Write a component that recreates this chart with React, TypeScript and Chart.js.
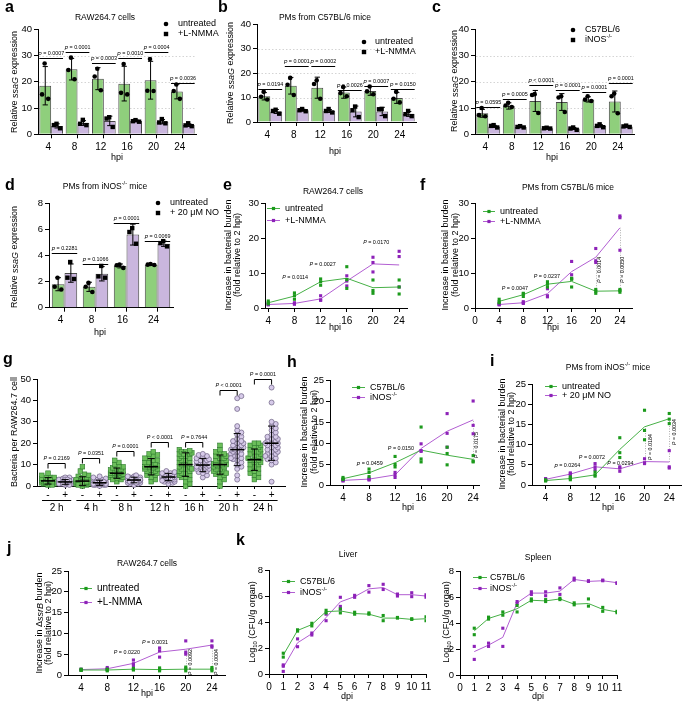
import React, { useEffect, useRef } from 'react';
import { Chart, registerables } from 'chart.js';
Chart.register(...registerables);

const FONT = "'Liberation Sans', Arial, Helvetica, sans-serif";
const GREEN_BAR = '#8fcf7c';
const PURPLE_BAR = '#cab6de';
const BAR_EDGE = '#4a4a4a';
const GREEN_LINE = '#46b046';
const PURPLE_LINE = '#b25ed2';
const GREEN_PT = '#1c9a1c';
const PURPLE_PT = '#8d22b8';
const P_SIZE = 5.4;

// ---------------- data ----------------
const hpi6 = ['4', '8', '12', '16', '20', '24'];
const hpi4 = ['4', '8', '16', '24'];
const hpiX = [4, 8, 12, 16, 20, 24];
const dpiX = [1, 2, 3, 4, 5, 6, 7, 8, 9, 10, 11];

// a
const aUMean = [18.5, 24.8, 21.2, 19.3, 20.6, 16.3];
const aUSD = [7.3, 4.1, 4.2, 6.6, 7.2, 2.8];
const aUPts = [[27, 15.2, 13.5], [29.2, 24.5, 21], [25, 22, 16.8], [26.8, 15.8, 15.2], [28.7, 16.6, 16.5], [19, 16.5, 13.5]];
const aNMean = [3.2, 4.3, 5.1, 5.1, 4.8, 3.5];
const aNSD = [0.8, 0.9, 1.8, 0.3, 0.8, 0.5];
const aNPts = [[4, 3.5, 2.3], [5.5, 4, 3.5], [6.5, 6, 2.8], [5.4, 5, 4.8], [5.8, 4.5, 4.2], [4.2, 3.4, 3.1]];
const aP = ['P = 0.0007', 'P = 0.0001', 'P = 0.0003', 'P = 0.0010', 'P = 0.0004', 'P = 0.0036'];
const aPLevel = [29, 31.5, 27, 29, 31.5, 19.5];

// b
const bUMean = [10.5, 14.8, 14, 12, 12.7, 9.8];
const bUSD = [1.5, 3.4, 4.3, 2.3, 1.8, 2.2];
const bUPts = [[12.3, 10.3, 9.2], [18, 15.2, 11], [17, 15.5, 9.5], [14.3, 11.8, 10.5], [14.5, 12.5, 11.3], [12.3, 9.5, 8]];
const bNMean = [4.3, 4.8, 4.5, 4.3, 4.3, 3.3];
const bNSD = [0.8, 0.4, 0.6, 2.2, 1.7, 1.0];
const bNPts = [[5, 4.5, 3.4], [5.3, 4.8, 4.4], [5.3, 4.5, 3.9], [6.3, 4.8, 2], [5.3, 5.2, 2.4], [4.5, 3.2, 2.4]];
const bP = ['P = 0.0194', 'P = 0.0001', 'P = 0.0002', 'P = 0.0026', 'P = 0.0007', 'P = 0.0150'];
const bPLevel = [13.3, 22.9, 22.9, 13, 14.7, 13.3];

// c
const cUMean = [8, 10.8, 12.7, 12.3, 13.3, 12.5];
const cUSD = [1.5, 1.2, 4, 3.2, 1.0, 4];
const cUPts = [[10, 7.3, 6.9], [12, 11, 10.4], [15.3, 15, 8.1], [14.5, 14, 8.5], [14.5, 13.2, 12.7], [15.5, 14.5, 8]];
const cNMean = [3.0, 2.8, 2.3, 2.2, 3.2, 3.0];
const cNSD = [0.4, 0.2, 0.2, 0.4, 0.5, 0.3];
const cNPts = [[3.5, 3.2, 2.6], [3.1, 2.8, 2.6], [2.5, 2.3, 2.2], [2.6, 2.2, 1.7], [3.8, 3.2, 2.7], [3.3, 3.0, 2.8]];
const cP = ['P = 0.0595', 'P = 0.0005', 'P < 0.0001', 'P = 0.0001', 'P = 0.0001', 'P = 0.0001'];
const cPLevel = [10.5, 13.3, 18.8, 16.9, 16.3, 19.4];

// d
const dUMean = [1.8, 1.6, 3.2, 3.3];
const dUSD = [0.5, 0.35, 0.15, 0.05];
const dUPts = [[2.3, 1.6, 1.4], [1.9, 1.6, 1.2], [3.3, 3.25, 3.05], [3.35, 3.3, 3.27]];
const dNMean = [2.65, 2.6, 5.6, 4.9];
const dNSD = [0.7, 0.55, 0.8, 0.2];
const dNPts = [[3.5, 2.3, 2.2], [3.2, 2.4, 2.3], [6.1, 5.8, 4.9], [5.1, 4.95, 4.7]];
const dP = ['P = 0.2281', 'P = 0.1066', 'P = 0.0001', 'P = 0.0069'];
const dPLevel = [4.2, 3.35, 6.5, 5.1];

// e
const eUPts = [[2, 1.5, 1.2], [4.3, 3.5, 2.5], [8.3, 7.5, 6.5], [11.8, 8.1, 5.6], [8, 5, 4.2], [8, 6, 4]];
const eUMean = [1.5, 3.4, 7.5, 8.5, 5.8, 6];
const eNPts = [[1.2, 1, 0.9], [1.5, 1.2, 1.1], [3.5, 2.3, 2.2], [9.2, 7.7, 6.3], [14.5, 13, 10.3], [16.2, 14.7, 6]];
const eNMean = [1.0, 1.3, 2.6, 7.7, 12.6, 12.3];

// f
const fUPts = [[2.5, 1.8, 1.5], [4.2, 4, 3.3], [7.5, 6.8, 6], [8.5, 8.2, 6.0], [5.3, 4.8, 4.2], [5.3, 5, 4.5]];
const fUMean = [1.9, 3.8, 6.8, 7.6, 4.8, 4.9];
const fNPts = [[1.2, 1.0, 0.9], [1.8, 1.5, 1.3], [5.5, 3.5, 3.2], [13.3, 9.5, 8.4], [17, 13.5, 13], [26.3, 25.8, 16.5]];
const fNMean = [1.0, 1.5, 4.1, 10.4, 14.5, 22.9];

// g
const gGroups = ['2 h', '4 h', '8 h', '12 h', '16 h', '20 h', '24 h'];
const gSigns = ['-', '+'];
const gCols = [
  [0.5, 1, 1, 1.5, 1.5, 2, 2, 2, 2, 2.5, 2.5, 3, 3, 3, 3, 3.5, 3.5, 4, 4, 4, 1, 1.5, 2, 2.5, 3, 5, 6, 0.5, 2, 3],
  [0.5, 1, 1, 1, 1.5, 1.5, 2, 2, 2, 2, 2.5, 2.5, 2.5, 3, 3, 3, 3.5, 4, 4, 0.5, 1, 1.5, 2, 2, 3, 1.5, 2, 2.5, 3, 1],
  [0, 0.5, 1, 1, 1, 1.5, 1.5, 2, 2, 2, 2, 2.5, 2.5, 3, 3, 3, 3.5, 4, 4.5, 5, 5.5, 7, 9, 1, 1.5, 2, 0.5, 1, 2, 3],
  [0, 0.5, 0.5, 1, 1, 1, 1, 1.5, 1.5, 1.5, 2, 2, 2, 2, 2.5, 2.5, 3, 3, 3.5, 4, 4.5, 0.5, 1, 1.5, 2, 1, 1.5, 2, 0.5, 1],
  [2, 3, 3.5, 4, 4, 4.5, 5, 5, 5, 5.5, 5.5, 6, 6, 6, 6, 6.5, 6.5, 7, 7, 7, 7.5, 8, 8, 8.5, 9, 9, 10, 11, 12, 3],
  [0.5, 1, 1, 1.5, 1.5, 2, 2, 2, 2.5, 2.5, 2.5, 3, 3, 3, 3, 3, 3.5, 3.5, 3.5, 4, 4, 4, 4.5, 4.5, 5, 2, 2.5, 3, 3.5, 1.5],
  [2, 3, 4, 5, 5, 6, 6, 7, 7, 7.5, 8, 8, 8.5, 9, 9, 9, 9.5, 10, 10, 10.5, 11, 11, 12, 12, 13, 13, 14, 14.5, 15, 16],
  [1, 1.5, 2, 2, 2.5, 3, 3, 3, 3.5, 3.5, 3.5, 4, 4, 4, 4, 4.5, 4.5, 4.5, 5, 5, 5, 5.5, 5.5, 6, 6, 6.5, 7, 2.5, 3, 4],
  [0, 1, 2, 3, 4, 4, 5, 5, 6, 6, 7, 7, 8, 8, 9, 9, 10, 10, 11, 11, 12, 12, 13, 13, 14, 14, 15, 15, 15.5, 16, 16.5, 17, 16, 15, 8],
  [4, 5, 6, 6.5, 7, 7.5, 8, 8, 8.5, 9, 9, 9.5, 9.5, 10, 10, 10, 10.5, 10.5, 11, 11, 11.5, 12, 12, 12.5, 13, 13.5, 14, 14.5, 15, 9],
  [0, 2, 3, 4, 5, 5.5, 6, 7, 7, 8, 8, 9, 9, 9.5, 10, 10, 10.5, 11, 11, 12, 12, 13, 13, 14, 14, 15, 15, 16, 17, 19, 6, 10],
  [3, 5, 8, 9, 10, 11, 12, 12.5, 13, 14, 14, 15, 15, 16, 16, 17, 17, 18, 18, 19, 19, 20, 20, 21, 22, 23, 24, 25, 26, 28, 36, 41, 42, 13, 17, 21],
  [3, 4, 5, 6, 6, 7, 8, 8, 9, 10, 10, 11, 11, 12, 12, 13, 13, 14, 14, 15, 15, 16, 16, 17, 17, 18, 18, 19, 19, 20, 20, 12],
  [2, 10, 11, 12, 12.5, 13, 14, 15, 15, 16, 16, 17, 17, 18, 18, 19, 19, 20, 20, 21, 21, 22, 22, 23, 23, 24, 25, 26, 27, 28, 29, 30, 39, 46, 14, 20],
];
const gMean = [2.4, 1.9, 2.3, 1.5, 6, 2.8, 9, 4.2, 10, 9.8, 10, 17, 12.3, 20];
const gSD = [1.5, 1.1, 2, 1.2, 2.4, 1.3, 3.8, 1.7, 5.5, 3.1, 4.5, 7.5, 5, 8];
const gP = ['P = 0.2169', 'P = 0.0351', 'P = 0.0001', 'P < 0.0001', 'P = 0.7644', 'P < 0.0001', 'P = 0.0001'];
const gBracket = [10.7, 13, 16.3, 20.5, 20.5, 45, 50];

// h
const hUPts = [[1.8, 1.5, 1.3], [3.8, 3.0, 2.0], [6.8, 4.9, 4.3], [13.8, 6.2, 5.5], [9, 7.5, 4.8], [7, 5.7, 5.5]];
const hUMean = [1.5, 2.9, 5.3, 8.3, 7.1, 6.1];
const hNPts = [[1.3, 1.0, 1.0], [1.6, 1.3, 1.2], [3, 2.4, 1.8], [9.8, 8.2, 8], [17, 12.3, 9], [20, 14.2, 12.2]];
const hNMean = [1.1, 1.4, 2.4, 8.7, 12.8, 15.5];

// i
const iUPts = [[1.3, 1.1, 1.0], [2.0, 1.6, 1.3], [3.2, 2.5, 2.2], [11.7, 8, 6.8], [18.5, 13.5, 11.2], [17.7, 16.3, 15.2]];
const iUMean = [1.1, 1.6, 2.5, 8.8, 14.4, 16.4];
const iNPts = [[1.6, 1.4, 1.2], [3.0, 2.8, 2.4], [5.3, 4.5, 3.8], [4.5, 4.2, 3.4], [6.5, 5.5, 5.3], [8.5, 4.5, 4.2]];
const iNMean = [1.4, 2.7, 4.5, 4.0, 5.8, 5.7];

// j
const jUPts = [[1.4, 1.2, 1.1], [1.4, 1.2, 1.0], [1.6, 1.4, 1.2], [1.7, 1.3, 1.0], [1.9, 1.5, 1.0], [1.8, 1.4, 1.0]];
const jUMean = [1.2, 1.2, 1.4, 1.3, 1.4, 1.4];
const jNPts = [[1.4, 1.3, 1.1], [1.8, 1.5, 1.3], [3.6, 2.7, 2.3], [6.5, 5.8, 4.3], [8.2, 5.5, 5.0], [8.2, 7.0, 6.7]];
const jNMean = [1.3, 1.5, 2.8, 5.5, 6.2, 7.2];

// k liver
const kLUPts = [[1.6, 1.3], [3.4, 3.3], [3.9, 3.7], [4.9, 4.7], [5.0, 4.7], [4.75, 4.6], [4.7, 4.6], [4.5, 4.1], [4.35, 4.3], [4.25, 4.2], [4.4, 4.1]];
const kLUMean = [1.45, 3.35, 3.8, 4.8, 4.85, 4.65, 4.6, 4.3, 4.3, 4.2, 4.25];
const kLNPts = [[0.7, 0.6, 0.2], [2.7, 2.1], [3.15, 3.0], [4.6, 4.1], [5.9, 5.2, 5.0], [6.05, 5.9], [6.8, 6.3], [6.9, 6.5], [6.15, 6.0], [6.25, 5.95], [6.1, 5.9]];
const kLNMean = [0.5, 2.4, 3.1, 4.35, 5.55, 5.95, 6.55, 6.65, 6.1, 6.1, 6.0];
// k spleen
const kSUPts = [[3.6, 3.1], [4.45, 4.3], [4.85, 4.6], [5.35, 4.85], [5.85, 5.7], [5.8, 5.65], [5.9, 5.8], [5.55, 5.4], [5.85, 5.3], [5.2, 4.9], [4.9, 4.8]];
const kSUMean = [3.4, 4.35, 4.7, 5.1, 5.75, 5.7, 5.85, 5.45, 5.5, 5.05, 4.85];
const kSNPts = [[2.2, 1.2], [2.45, 2.2], [3.6, 2.2], [5.65, 5.5], [6.4, 6.2], [6.4, 6.1], [6.7, 6.2], [7.45, 7.3], [7.25, 7.2], [7.3, 7.25], [7.1, 7.05]];
const kSNMean = [1.8, 2.3, 2.9, 5.55, 6.3, 6.3, 6.45, 7.35, 7.2, 7.25, 7.1];

// ---------------- helpers ----------------
function parseRich(s: string) {
  const parts: any[] = [];
  let it = false, sup = false, sub = false, cur = '';
  const push = () => { if (cur) parts.push({ t: cur, it, sup, sub }); cur = ''; };
  for (const ch of s) {
    if (ch === '_') { push(); it = !it; }
    else if (ch === '^') { push(); sup = !sup; }
    else if (ch === '~') { push(); sub = !sub; }
    else cur += ch;
  }
  push();
  return parts;
}

function drawRich(ctx: CanvasRenderingContext2D, s: string, x: number, y: number, size: number, opts: any = {}) {
  const parts = parseRich(s);
  ctx.save();
  ctx.translate(x, y);
  if (opts.rot) ctx.rotate(opts.rot);
  ctx.fillStyle = opts.color || '#000';
  ctx.textBaseline = 'middle';
  ctx.textAlign = 'left';
  const fontFor = (p: any) => `${p.it ? 'italic ' : ''}${opts.bold ? 'bold ' : ''}${(p.sup || p.sub) ? size * 0.65 : size}px ${FONT}`;
  let total = 0;
  const widths = parts.map((p: any) => { ctx.font = fontFor(p); const w = ctx.measureText(p.t).width; total += w; return w; });
  let cx = opts.align === 'left' ? 0 : opts.align === 'right' ? -total : -total / 2;
  parts.forEach((p: any, i: number) => {
    ctx.font = fontFor(p);
    const dy = p.sup ? -size * 0.38 : p.sub ? size * 0.3 : 0;
    ctx.fillText(p.t, cx, dy);
    cx += widths[i];
  });
  ctx.restore();
}

const pMarkup = (s: string) => s.replace(/^P/, '_P_');
const ROT = -Math.PI / 2;

function axisBase(size: number) {
  return {
    grid: { display: true, drawOnChartArea: false, drawTicks: true, tickLength: 4, color: '#000', lineWidth: 1 },
    border: { display: true, color: '#000', width: 1 },
    ticks: { color: '#000', font: { family: FONT, size }, padding: 2, autoSkip: false, maxRotation: 0 },
  };
}

function baseOptions(box: any, area: any) {
  return {
    responsive: false,
    animation: false,
    events: [],
    layout: { padding: { left: 0, top: area.y0 - box.top, right: box.left + box.width - area.x1, bottom: 0 } },
    plugins: { legend: { display: false }, tooltip: { enabled: false }, title: { display: false } },
  };
}

function drawTexts(ctx: CanvasRenderingContext2D, box: any, texts: any[]) {
  for (const t of texts) {
    drawRich(ctx, t.s, t.x - box.left, t.y - box.top, t.size, { align: t.align || 'center', rot: t.rot });
  }
}

// ---------------- bar panel ----------------
function makeBar(spec: any) {
  const { box, area } = spec;
  const plugin = {
    id: 'barOverlay',
    beforeDatasetsDraw(chart: any) {
      const ctx = chart.ctx; const ys = chart.scales.y; const ca = chart.chartArea;
      ctx.save(); ctx.strokeStyle = '#c9c9c9'; ctx.lineWidth = 0.8; ctx.setLineDash([1.5, 2]);
      for (const v of spec.dotted || []) {
        const y = Math.round(ys.getPixelForValue(v)) + 0.5;
        ctx.beginPath(); ctx.moveTo(ca.left + 1, y); ctx.lineTo(ca.right, y); ctx.stroke();
      }
      ctx.restore();
    },
    afterDraw(chart: any) {
      const ctx = chart.ctx; const ys = chart.scales.y;
      const series = [
        { mean: spec.meanA, sd: spec.sdA, pts: spec.ptsA, shape: 'circle' },
        { mean: spec.meanB, sd: spec.sdB, pts: spec.ptsB, shape: 'square' },
      ];
      series.forEach((s, di) => {
        const meta = chart.getDatasetMeta(di);
        meta.data.forEach((el: any, i: number) => {
          const x = el.x, w = el.width;
          const yt = ys.getPixelForValue(s.mean[i] + s.sd[i]);
          const yb = ys.getPixelForValue(Math.max(0, s.mean[i] - s.sd[i]));
          ctx.save(); ctx.strokeStyle = '#000'; ctx.lineWidth = 1;
          ctx.beginPath();
          ctx.moveTo(x, yt); ctx.lineTo(x, yb);
          ctx.moveTo(x - w * 0.22, yt); ctx.lineTo(x + w * 0.22, yt);
          ctx.moveTo(x - w * 0.22, yb); ctx.lineTo(x + w * 0.22, yb);
          ctx.stroke();
          const offs = [-0.05, -0.27, 0.25, 0.1];
          ctx.fillStyle = '#000';
          s.pts[i].forEach((v: number, k: number) => {
            const px = x + offs[k % offs.length] * w; const py = ys.getPixelForValue(v);
            if (s.shape === 'circle') { ctx.beginPath(); ctx.arc(px, py, 2.3, 0, Math.PI * 2); ctx.fill(); }
            else ctx.fillRect(px - 2.2, py - 2.2, 4.4, 4.4);
          });
          ctx.restore();
        });
      });
      const mA = chart.getDatasetMeta(0).data, mB = chart.getDatasetMeta(1).data;
      spec.pText.forEach((t: string, i: number) => {
        const a: any = mA[i], b: any = mB[i];
        const y = Math.round(ys.getPixelForValue(spec.pLevel[i])) + 0.5;
        const xl = a.x - a.width * 0.5, xr = b.x + b.width * 0.5;
        ctx.save(); ctx.strokeStyle = '#000'; ctx.lineWidth = 1;
        ctx.beginPath(); ctx.moveTo(xl, y); ctx.lineTo(xr, y); ctx.stroke(); ctx.restore();
        drawRich(ctx, pMarkup(t), (xl + xr) / 2, y - 4.5, P_SIZE);
      });
      const L = spec.legend;
      ctx.save(); ctx.fillStyle = '#000';
      ctx.beginPath(); ctx.arc(L.mx - box.left, L.y1 - box.top, 2.3, 0, Math.PI * 2); ctx.fill();
      ctx.fillRect(L.mx - box.left - 2.2, L.y2 - box.top - 2.2, 4.4, 4.4);
      ctx.restore();
      drawRich(ctx, L.l1, L.tx - box.left, L.y1 - box.top, 9, { align: 'left' });
      drawRich(ctx, L.l2, L.tx - box.left, L.y2 - box.top, 9, { align: 'left' });
      drawTexts(ctx, box, spec.texts);
    },
  };
  const xb = axisBase(10);
  const yb = axisBase(9.5);
  return {
    type: 'bar',
    data: {
      labels: spec.labels,
      datasets: [
        { data: spec.meanA, backgroundColor: GREEN_BAR, borderColor: BAR_EDGE, borderWidth: 1, categoryPercentage: spec.catPct, barPercentage: 1 },
        { data: spec.meanB, backgroundColor: PURPLE_BAR, borderColor: BAR_EDGE, borderWidth: 1, categoryPercentage: spec.catPct, barPercentage: 1 },
      ],
    },
    options: {
      ...baseOptions(box, area),
      scales: {
        x: {
          type: 'category', offset: true,
          grid: { ...xb.grid, offset: false },
          border: xb.border,
          ticks: { ...xb.ticks, labelOffset: spec.labelOffset, padding: 3 },
          afterFit: (s: any) => { s.height = box.top + box.height - area.y1; },
        },
        y: {
          type: 'linear', min: 0, max: spec.yMax,
          grid: yb.grid, border: yb.border,
          ticks: { ...yb.ticks, stepSize: spec.yStep },
          afterFit: (s: any) => { s.width = area.x0 - box.left; },
        },
      },
    },
    plugins: [plugin],
  };
}

// ---------------- line panel ----------------
function makeLine(spec: any) {
  const { box, area } = spec;
  const plugin = {
    id: 'lineOverlay',
    beforeDatasetsDraw(chart: any) {
      const ctx = chart.ctx; const xs = chart.scales.x; const ys = chart.scales.y;
      ctx.save(); ctx.strokeStyle = '#9a9a9a'; ctx.lineWidth = 0.8; ctx.setLineDash([1, 1.5]);
      for (const d of spec.dotted || []) {
        const x = Math.round(xs.getPixelForValue(d.x)) + 0.5;
        ctx.beginPath(); ctx.moveTo(x, ys.getPixelForValue(d.y0)); ctx.lineTo(x, ys.getPixelForValue(d.y1)); ctx.stroke();
      }
      ctx.restore();
    },
    afterDraw(chart: any) {
      const ctx = chart.ctx; const xs = chart.scales.x; const ys = chart.scales.y;
      for (const p of spec.pTexts || []) {
        drawRich(ctx, pMarkup(p.s), xs.getPixelForValue(p.x), ys.getPixelForValue(p.y), P_SIZE, { rot: p.vert ? ROT : 0 });
      }
      const L = spec.legend;
      L.labels.forEach((lab: string, k: number) => {
        const y = L.ys[k] - box.top + 0.5;
        const col = spec.series[k].line, pc = spec.series[k].pt;
        ctx.save(); ctx.strokeStyle = col; ctx.lineWidth = 1;
        ctx.beginPath(); ctx.moveTo(L.x0 - box.left, y); ctx.lineTo(L.x1 - box.left, y); ctx.stroke();
        ctx.fillStyle = pc; const mx = (L.x0 + L.x1) / 2 - box.left;
        ctx.fillRect(mx - 1.6, y - 1.6, 3.2, 3.2);
        ctx.restore();
        drawRich(ctx, lab, L.tx - box.left, y, L.size || 9, { align: 'left' });
      });
      drawTexts(ctx, box, spec.texts);
    },
  };
  const datasets: any[] = [];
  spec.series.forEach((s: any) => {
    datasets.push({
      type: 'line', data: s.xs.map((x: number, i: number) => ({ x, y: s.mean[i] })),
      borderColor: s.line, borderWidth: 1, pointRadius: 0, fill: false, tension: 0, order: 2,
    });
    datasets.push({
      type: 'line', showLine: false,
      data: s.xs.flatMap((x: number, i: number) => s.pts[i].map((v: number) => ({ x, y: v }))),
      pointStyle: 'rect', pointRadius: 2.2, pointBackgroundColor: s.pt, pointBorderWidth: 0, order: 1,
    });
  });
  const xb = axisBase(10);
  const yb = axisBase(9.5);
  return {
    type: 'line',
    data: { datasets },
    options: {
      ...baseOptions(box, area),
      scales: {
        x: {
          type: 'linear', min: spec.xMin, max: spec.xMax,
          grid: xb.grid, border: xb.border, ticks: { ...xb.ticks, padding: 3 },
          afterBuildTicks: (s: any) => { s.ticks = spec.xTicks.map((v: number) => ({ value: v })); },
          afterFit: (s: any) => { s.height = box.top + box.height - area.y1; },
        },
        y: {
          type: 'linear', min: 0, max: spec.yMax,
          grid: yb.grid, border: yb.border, ticks: { ...yb.ticks, stepSize: spec.yStep },
          afterFit: (s: any) => { s.width = area.x0 - box.left; },
        },
      },
    },
    plugins: [plugin],
  };
}

// ---------------- dot plot (g) ----------------
function swarm(vals: number[], toY: (v: number) => number, r: number, maxOff: number) {
  const idx = vals.map((_, i) => i).sort((a, b) => vals[a] - vals[b]);
  const placed: { x: number; y: number }[] = [];
  const offs = new Array(vals.length).fill(0);
  const minD = 2 * r * 0.8;
  for (const i of idx) {
    const y = toY(vals[i]);
    let best = 0, bestD = -1;
    for (let k = 0; k < 30; k++) {
      const cand = k === 0 ? 0 : (k % 2 ? 1 : -1) * Math.ceil(k / 2) * r * 0.8;
      if (Math.abs(cand) > maxOff) break;
      let d = Infinity;
      for (const p of placed) d = Math.min(d, Math.hypot(p.x - cand, p.y - y));
      if (d >= minD) { best = cand; bestD = d; break; }
      if (d > bestD) { bestD = d; best = cand; }
    }
    offs[i] = best;
    placed.push({ x: best, y });
  }
  return offs;
}

function makeDot(spec: any) {
  const { box, area } = spec;
  const plugin = {
    id: 'dotOverlay',
    afterDraw(chart: any) {
      const ctx = chart.ctx; const xs = chart.scales.x; const ys = chart.scales.y;
      gCols.forEach((col, ci) => {
        const cx = xs.getPixelForValue(ci);
        const offs = swarm(col, (v) => ys.getPixelForValue(v), 2.6, 8);
        col.forEach((v, k) => {
          const px = cx + offs[k]; const py = ys.getPixelForValue(v);
          ctx.save();
          if (ci % 2 === 0) {
            ctx.fillStyle = '#6cbf5b'; ctx.strokeStyle = '#2d7a2d'; ctx.lineWidth = 0.6;
            ctx.fillRect(px - 2.3, py - 2.3, 4.6, 4.6); ctx.strokeRect(px - 2.3, py - 2.3, 4.6, 4.6);
          } else {
            ctx.fillStyle = '#d6cae9'; ctx.strokeStyle = '#6a5e80'; ctx.lineWidth = 0.7;
            ctx.beginPath(); ctx.arc(px, py, 2.5, 0, Math.PI * 2); ctx.fill(); ctx.stroke();
          }
          ctx.restore();
        });
      });
      ctx.save(); ctx.strokeStyle = '#000';
      gMean.forEach((m, ci) => {
        const cx = xs.getPixelForValue(ci);
        const ym = ys.getPixelForValue(m), yt = ys.getPixelForValue(m + gSD[ci]), yb = ys.getPixelForValue(Math.max(0, m - gSD[ci]));
        ctx.lineWidth = 1.6; ctx.beginPath(); ctx.moveTo(cx - 7, ym); ctx.lineTo(cx + 7, ym); ctx.stroke();
        ctx.lineWidth = 1; ctx.beginPath();
        ctx.moveTo(cx, yt); ctx.lineTo(cx, yb);
        ctx.moveTo(cx - 3.5, yt); ctx.lineTo(cx + 3.5, yt);
        ctx.moveTo(cx - 3.5, yb); ctx.lineTo(cx + 3.5, yb);
        ctx.stroke();
      });
      ctx.restore();
      gGroups.forEach((g, gi) => {
        const x1 = xs.getPixelForValue(gi * 2), x2 = xs.getPixelForValue(gi * 2 + 1);
        const yTop = Math.round(ys.getPixelForValue(gBracket[gi])) + 0.5;
        ctx.save(); ctx.strokeStyle = '#000'; ctx.lineWidth = 1;
        ctx.beginPath(); ctx.moveTo(x1, yTop + 5); ctx.lineTo(x1, yTop); ctx.lineTo(x2, yTop); ctx.lineTo(x2, yTop + 5); ctx.stroke();
        const ul = 500 - box.top + 0.5;
        ctx.beginPath(); ctx.moveTo(x1 - 6, ul); ctx.lineTo(x2 + 6, ul); ctx.stroke();
        ctx.restore();
        drawRich(ctx, pMarkup(gP[gi]), (x1 + x2) / 2, yTop - 5, P_SIZE);
        drawRich(ctx, g, (x1 + x2) / 2, 508 - box.top, 10);
      });
      drawTexts(ctx, box, spec.texts);
    },
  };
  const xb = axisBase(10);
  const yb = axisBase(9.5);
  return {
    type: 'scatter',
    data: { datasets: [] },
    options: {
      ...baseOptions(box, area),
      scales: {
        x: {
          type: 'linear', min: -0.64, max: 13.78,
          grid: { ...xb.grid, tickLength: 3 }, border: xb.border,
          ticks: { ...xb.ticks, padding: 0, font: { family: FONT, size: 10 }, callback: (v: number) => gSigns[Math.round(v) % 2] },
          afterBuildTicks: (s: any) => { s.ticks = gCols.map((_, i) => ({ value: i })); },
          afterFit: (s: any) => { s.height = box.top + box.height - area.y1; },
        },
        y: {
          type: 'linear', min: 0, max: 50,
          grid: yb.grid, border: yb.border, ticks: { ...yb.ticks, stepSize: 10 },
          afterFit: (s: any) => { s.width = area.x0 - box.left; },
        },
      },
    },
    plugins: [plugin],
  };
}

// ---------------- panel specs ----------------
const YT = (s: string, x: number, y: number) => ({ s, x, y, size: 9, rot: ROT });
const T = (s: string, x: number, y: number, size = 9) => ({ s, x, y, size });

const panelA = () => makeBar({
  box: { left: 0, top: 0, width: 222, height: 168 }, area: { x0: 38, y0: 29.3, x1: 196, y1: 134.3 },
  labels: hpi6, meanA: aUMean, sdA: aUSD, ptsA: aUPts, meanB: aNMean, sdB: aNSD, ptsB: aNPts,
  yMax: 40, yStep: 10, dotted: [10, 20, 30], pText: aP, pLevel: aPLevel, catPct: 0.9, labelOffset: -3,
  legend: { mx: 166, tx: 178, y1: 24, y2: 34, l1: 'untreated', l2: '+L-NMMA' },
  texts: [T('RAW264.7 cells', 105, 18, 8.5), YT('Relative _ssaG_ expression', 15, 82), T('hpi', 117, 158)],
});
const panelB = () => makeBar({
  box: { left: 222, top: 0, width: 210, height: 168 }, area: { x0: 257, y0: 24, x1: 416, y1: 122 },
  labels: hpi6, meanA: bUMean, sdA: bUSD, ptsA: bUPts, meanB: bNMean, sdB: bNSD, ptsB: bNPts,
  yMax: 40, yStep: 10, dotted: [10, 20, 30], pText: bP, pLevel: bPLevel, catPct: 0.9, labelOffset: -3,
  legend: { mx: 364, tx: 375, y1: 42, y2: 52, l1: 'untreated', l2: '+L-NMMA' },
  texts: [T('PMs from C57BL/6 mice', 325, 18, 8.5), YT('Relative _ssaG_ expression', 231, 73), T('hpi', 335, 152)],
});
const panelC = () => makeBar({
  box: { left: 432, top: 0, width: 253, height: 168 }, area: { x0: 475, y0: 29.3, x1: 634, y1: 134.3 },
  labels: hpi6, meanA: cUMean, sdA: cUSD, ptsA: cUPts, meanB: cNMean, sdB: cNSD, ptsB: cNPts,
  yMax: 40, yStep: 10, dotted: [10, 20, 30], pText: cP, pLevel: cPLevel, catPct: 0.9, labelOffset: -3,
  legend: { mx: 573, tx: 585, y1: 30, y2: 40, l1: 'C57BL/6', l2: 'iNOS^-/-^' },
  texts: [YT('Relative _ssaG_ expression', 455, 81), T('hpi', 552, 158)],
});
const panelD = () => makeBar({
  box: { left: 0, top: 168, width: 222, height: 172 }, area: { x0: 49, y0: 203.3, x1: 173, y1: 307.7 },
  labels: hpi4, meanA: dUMean, sdA: dUSD, ptsA: dUPts, meanB: dNMean, sdB: dNSD, ptsB: dNPts,
  yMax: 8, yStep: 2, dotted: [], pText: dP, pLevel: dPLevel, catPct: 0.82, labelOffset: -4,
  legend: { mx: 158, tx: 170, y1: 203, y2: 213, l1: 'untreated', l2: '+ 20 μM NO' },
  texts: [T('PMs from iNOS^-/-^ mice', 105, 187, 8.5), YT('Relative _ssaG_ expression', 15, 257), T('hpi', 100, 333)],
});
const panelE = () => makeLine({
  box: { left: 222, top: 168, width: 198, height: 172 }, area: { x0: 265, y0: 203, x1: 407, y1: 308 },
  xMin: 3.5, xMax: 25.2, xTicks: hpiX, yMax: 30, yStep: 10,
  series: [
    { xs: hpiX, mean: eUMean, pts: eUPts, line: GREEN_LINE, pt: GREEN_PT },
    { xs: hpiX, mean: eNMean, pts: eNPts, line: PURPLE_LINE, pt: PURPLE_PT },
  ],
  legend: { x0: 267, x1: 280, tx: 285, ys: [208, 220], labels: ['untreated', '+L-NMMA'] },
  pTexts: [{ s: 'P = 0.0114', x: 8.1, y: 8.6 }, { s: 'P = 0.0027', x: 12.3, y: 12.3 }, { s: 'P = 0.0170', x: 20.5, y: 18.6 }],
  dotted: [],
  texts: [T('RAW264.7 cells', 333, 192, 8.5), YT('Increase in bacterial burden', 229, 255), YT('(fold relative to 2 hpi)', 238, 255), T('hpi', 335, 328)],
});
const panelF = () => makeLine({
  box: { left: 420, top: 168, width: 265, height: 172 }, area: { x0: 475, y0: 203, x1: 632, y1: 308 },
  xMin: 0, xMax: 26, xTicks: [0, ...hpiX], yMax: 30, yStep: 10,
  series: [
    { xs: hpiX, mean: fUMean, pts: fUPts, line: GREEN_LINE, pt: GREEN_PT },
    { xs: hpiX, mean: fNMean, pts: fNPts, line: PURPLE_LINE, pt: PURPLE_PT },
  ],
  legend: { x0: 483, x1: 495, tx: 500, ys: [211, 221], labels: ['untreated', '+L-NMMA'] },
  pTexts: [{ s: 'P = 0.0047', x: 6.6, y: 5.7 }, { s: 'P = 0.0237', x: 11.9, y: 9.1 }, { s: 'P = 0.0014', x: 20.7, y: 10.9, vert: true }, { s: 'P = 0.0050', x: 24.4, y: 10.9, vert: true }],
  dotted: [{ x: 20, y0: 4.8, y1: 14.5 }, { x: 24, y0: 4.9, y1: 22.9 }],
  texts: [T('PMs from C57BL/6 mice', 568, 188, 8.5), YT('Increase in bacterial burden', 446, 255), YT('(fold relative to 2 hpi)', 456, 255), T('hpi', 553, 328)],
});
const panelG = () => makeDot({
  box: { left: 0, top: 340, width: 288, height: 172 }, area: { x0: 37, y0: 379, x1: 285, y1: 486 },
  texts: [YT('Bacteria per RAW264.7 cell', 15, 432)],
});
const panelH = () => makeLine({
  box: { left: 288, top: 340, width: 195, height: 172 }, area: { x0: 330, y0: 380, x1: 481, y1: 485 },
  xMin: 2, xMax: 24.9, xTicks: hpiX, yMax: 25, yStep: 5,
  series: [
    { xs: hpiX, mean: hUMean, pts: hUPts, line: GREEN_LINE, pt: GREEN_PT },
    { xs: hpiX, mean: hNMean, pts: hNPts, line: PURPLE_LINE, pt: PURPLE_PT },
  ],
  legend: { x0: 352, x1: 365, tx: 370, ys: [387, 397], labels: ['C57BL/6', 'iNOS^-/-^'] },
  pTexts: [{ s: 'P = 0.0459', x: 8.1, y: 5 }, { s: 'P = 0.0150', x: 12.9, y: 8.8 }, { s: 'P = 0.0175', x: 24.5, y: 9.5, vert: true }],
  dotted: [{ x: 24, y0: 6.1, y1: 15.5 }],
  texts: [YT('Increase in bacterial burden', 305, 432), YT('(fold relative to 2 hpi)', 315, 432), T('hpi', 408, 508)],
});
const panelI = () => makeLine({
  box: { left: 478, top: 340, width: 207, height: 172 }, area: { x0: 532, y0: 384, x1: 684, y1: 485 },
  xMin: 1.8, xMax: 25.9, xTicks: hpiX, yMax: 25, yStep: 5,
  series: [
    { xs: hpiX, mean: iUMean, pts: iUPts, line: GREEN_LINE, pt: GREEN_PT },
    { xs: hpiX, mean: iNMean, pts: iNPts, line: PURPLE_LINE, pt: PURPLE_PT },
  ],
  legend: { x0: 545, x1: 557, tx: 562, ys: [386, 395], labels: ['untreated', '+ 20 μM NO'] },
  pTexts: [{ s: 'P = 0.0264', x: 7.5, y: 4.7 }, { s: 'P = 0.0072', x: 11.5, y: 6.7 }, { s: 'P = 0.0294', x: 16.1, y: 5.4 }, { s: 'P = 0.0184', x: 20.9, y: 9.4, vert: true }, { s: 'P = 0.0034', x: 24.9, y: 13.1, vert: true }],
  dotted: [{ x: 20, y0: 5.8, y1: 14.4 }, { x: 24, y0: 5.7, y1: 16.4 }],
  texts: [T('PMs from iNOS^-/-^ mice', 608, 368, 8.5), YT('Increase in bacterial burden', 503, 434), YT('(fold relative to 2 hpi)', 512, 434), T('hpi', 608, 508)],
});
const panelJ = () => makeLine({
  box: { left: 0, top: 512, width: 232, height: 189 }, area: { x0: 68, y0: 571, x1: 225, y1: 675 },
  xMin: 2, xMax: 26, xTicks: hpiX, yMax: 25, yStep: 5,
  series: [
    { xs: hpiX, mean: jUMean, pts: jUPts, line: GREEN_LINE, pt: GREEN_PT },
    { xs: hpiX, mean: jNMean, pts: jNPts, line: PURPLE_LINE, pt: PURPLE_PT },
  ],
  legend: { x0: 80, x1: 92, tx: 97, ys: [588, 602], labels: ['untreated', '+L-NMMA'], size: 10 },
  pTexts: [{ s: 'P = 0.0220', x: 11, y: 5.5 }, { s: 'P = 0.0031', x: 15.3, y: 7.9 }, { s: 'P = 0.0092', x: 20.8, y: 3.1, vert: true }, { s: 'P = 0.0004', x: 24.7, y: 3.1, vert: true }],
  dotted: [{ x: 20, y0: 1.4, y1: 6.2 }, { x: 24, y0: 1.4, y1: 7.2 }],
  texts: [T('RAW264.7 cells', 147, 564, 8.5), YT('Increase in Δ_ssrB_ burden', 40, 623), YT('(fold relative to 2 hpi)', 49, 623), T('hpi', 147, 694)],
});
const panelKL = () => makeLine({
  box: { left: 232, top: 512, width: 205, height: 189 }, area: { x0: 269, y0: 570, x1: 426, y1: 674 },
  xMin: 0, xMax: 11, xTicks: [0, ...dpiX], yMax: 8, yStep: 2,
  series: [
    { xs: dpiX, mean: kLUMean, pts: kLUPts, line: GREEN_LINE, pt: GREEN_PT },
    { xs: dpiX, mean: kLNMean, pts: kLNPts, line: PURPLE_LINE, pt: PURPLE_PT },
  ],
  legend: { x0: 282, x1: 295, tx: 300, ys: [581, 592], labels: ['C57BL/6', 'iNOS^-/-^'] },
  pTexts: [], dotted: [],
  texts: [T('Liver', 348, 555, 8.5), YT('Log~10~ (CFU/g organ)', 253, 622), T('dpi', 347, 697)],
});
const panelKS = () => makeLine({
  box: { left: 437, top: 512, width: 248, height: 189 }, area: { x0: 460, y0: 571, x1: 617, y1: 675 },
  xMin: 0, xMax: 11, xTicks: [0, ...dpiX], yMax: 8, yStep: 2,
  series: [
    { xs: dpiX, mean: kSUMean, pts: kSUPts, line: GREEN_LINE, pt: GREEN_PT },
    { xs: dpiX, mean: kSNMean, pts: kSNPts, line: PURPLE_LINE, pt: PURPLE_PT },
  ],
  legend: { x0: 473, x1: 487, tx: 490, ys: [577, 588], labels: ['C57BL/6', 'iNOS^-/-^'] },
  pTexts: [], dotted: [],
  texts: [T('Spleen', 538, 558, 8.5), YT('Log~10~ (CFU/g organ)', 447, 622), T('dpi', 538, 697)],
});

const PANELS: any[] = [
  { make: panelA, box: { left: 0, top: 0, width: 222, height: 168 } },
  { make: panelB, box: { left: 222, top: 0, width: 210, height: 168 } },
  { make: panelC, box: { left: 432, top: 0, width: 253, height: 168 } },
  { make: panelD, box: { left: 0, top: 168, width: 222, height: 172 } },
  { make: panelE, box: { left: 222, top: 168, width: 198, height: 172 } },
  { make: panelF, box: { left: 420, top: 168, width: 265, height: 172 } },
  { make: panelG, box: { left: 0, top: 340, width: 288, height: 172 } },
  { make: panelH, box: { left: 288, top: 340, width: 195, height: 172 } },
  { make: panelI, box: { left: 478, top: 340, width: 207, height: 172 } },
  { make: panelJ, box: { left: 0, top: 512, width: 232, height: 189 } },
  { make: panelKL, box: { left: 232, top: 512, width: 205, height: 189 } },
  { make: panelKS, box: { left: 437, top: 512, width: 248, height: 189 } },
];

const LETTERS: [string, number, number][] = [
  ['a', 5, 12], ['b', 218, 12], ['c', 432, 12], ['d', 5, 190], ['e', 223, 190], ['f', 420, 190],
  ['g', 3, 364], ['h', 287, 367], ['i', 490, 366], ['j', 7, 553], ['k', 236, 545],
];

function ChartBox({ box, make }: any) {
  const ref = useRef<HTMLCanvasElement>(null);
  useEffect(() => {
    const chart = new Chart(ref.current as HTMLCanvasElement, make());
    return () => chart.destroy();
  }, []);
  return (
    <canvas
      ref={ref}
      width={box.width}
      height={box.height}
      style={{ position: 'absolute', left: box.left, top: box.top, width: box.width, height: box.height }}
    />
  );
}

export default function App() {
  return (
    <div style={{ position: 'absolute', left: 0, top: 0, width: 685, height: 701, background: '#fff', overflow: 'hidden' }}>
      {PANELS.map((p, i) => <ChartBox key={i} box={p.box} make={p.make} />)}
      {LETTERS.map(([l, x, y]) => (
        <div key={l} style={{ position: 'absolute', left: x, top: y - 13.5, fontFamily: FONT, fontWeight: 'bold', fontSize: 16, lineHeight: '16px', color: '#000' }}>{l}</div>
      ))}
    </div>
  );
}
